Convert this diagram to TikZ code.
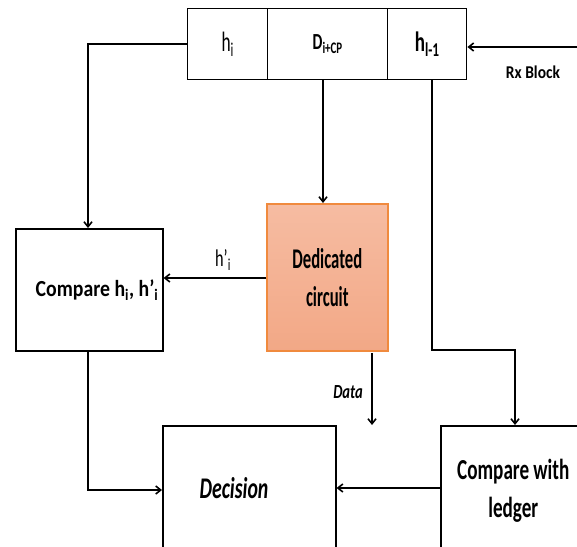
\documentclass[tikz,border=0pt]{standalone}
\usepackage{fontspec}
\setmainfont{Carlito}
\usetikzlibrary{arrows.meta}
\definecolor{circtop}{HTML}{F6BCA2}
\definecolor{circbot}{HTML}{F2A886}
\definecolor{circedge}{HTML}{F08A3E}
% narrow font at a given size: #1 size, #2 horizontal stretch
\newcommand\narrowfont[2]{\fontsize{#1}{38}\selectfont\addfontfeatures{FakeStretch=#2}}
\begin{document}
\begin{tikzpicture}[x=1pt,y=-1pt,
  box/.style={draw=black,line width=1.6pt,inner sep=0pt,anchor=north west},
  cell/.style={draw=black,line width=1.4pt,inner sep=0pt,anchor=north west,minimum height=71pt},
  label/.style={inner sep=0pt,align=center},
  link/.style={line width=1.8pt,-{Straight Barb[length=5pt,width=8pt,line width=1.6pt]}}]
\useasboundingbox (0,0) rectangle (577,546);
% received block
\node[cell,minimum width=80pt,font=\narrowfont{28}{0.62}] (hi) at (187,8) {h\textsubscript{i}};
\node[cell,minimum width=120pt,font=\bfseries\narrowfont{23}{0.68}] (dcp) at (267,8) {D\textsubscript{i+CP}};
\node[cell,minimum width=79pt,font=\bfseries\narrowfont{28}{0.68}] (hl) at (387,8) {h\textsubscript{l-1}};
% processing boxes
\node[box,minimum width=147pt,minimum height=122pt] (cmp) at (15,228) {};
\node[label,font=\bfseries\narrowfont{23}{0.86}] (cmpl) at (97,290) {Compare h\textsubscript{i}, h'\textsubscript{i}};
\node[box,draw=circedge,top color=circtop,bottom color=circbot,minimum width=121pt,minimum height=147pt,align=center,
  font=\bfseries\narrowfont{28.5}{0.585}] (ded) at (266,203) {Dedicated\\ circuit};
\node[box,minimum width=173pt,minimum height=130pt] (dec) at (162,425) {};
\node[label,font=\bfseries\itshape\narrowfont{30}{0.66}] (decl) at (234,488) {Decision};
\node[box,minimum width=145pt,minimum height=130pt,align=center,
  font=\bfseries\narrowfont{29}{0.66}] (led) at (440,425) {Compare with\\ ledger};
% coordinates for free ends and bends
\coordinate (rx) at (577,47);
\coordinate (c1) at (88,44);
\coordinate (c2) at (88,490);
\coordinate (c3) at (432,350);
\coordinate (c4) at (515,350);
\coordinate (dat) at (372,353);
% connectors
\draw[link] (rx) -- (hl.east |- rx);
\node[label,font=\bfseries\narrowfont{18}{0.86}] (rxl) at (533,72) {Rx Block};
\draw[link] (hi.west |- c1) -- (c1) -- (c1 |- cmp.north);
\draw[link] (dcp.south -| 323,0) -- (ded.north -| 323,0);
\draw[link] (ded.west |- 0,278) -- (cmp.east |- 0,278);
\node[label,font=\narrowfont{24}{0.68}] (hpl) at (223,260) {h'\textsubscript{i}};
\draw[link] (dat) -- (dat |- dec.north);
\node[label,font=\bfseries\itshape\narrowfont{20}{0.73}] (datl) at (348,392) {Data};
\draw[link] (cmp.south -| c2) -- (c2) -- (dec.west |- c2);
\draw[link] (hl.south -| c3) -- (c3) -- (c4) -- (c4 |- led.north);
\draw[link] (led.west |- 0,488) -- (dec.east |- 0,488);
\end{tikzpicture}
\end{document}
